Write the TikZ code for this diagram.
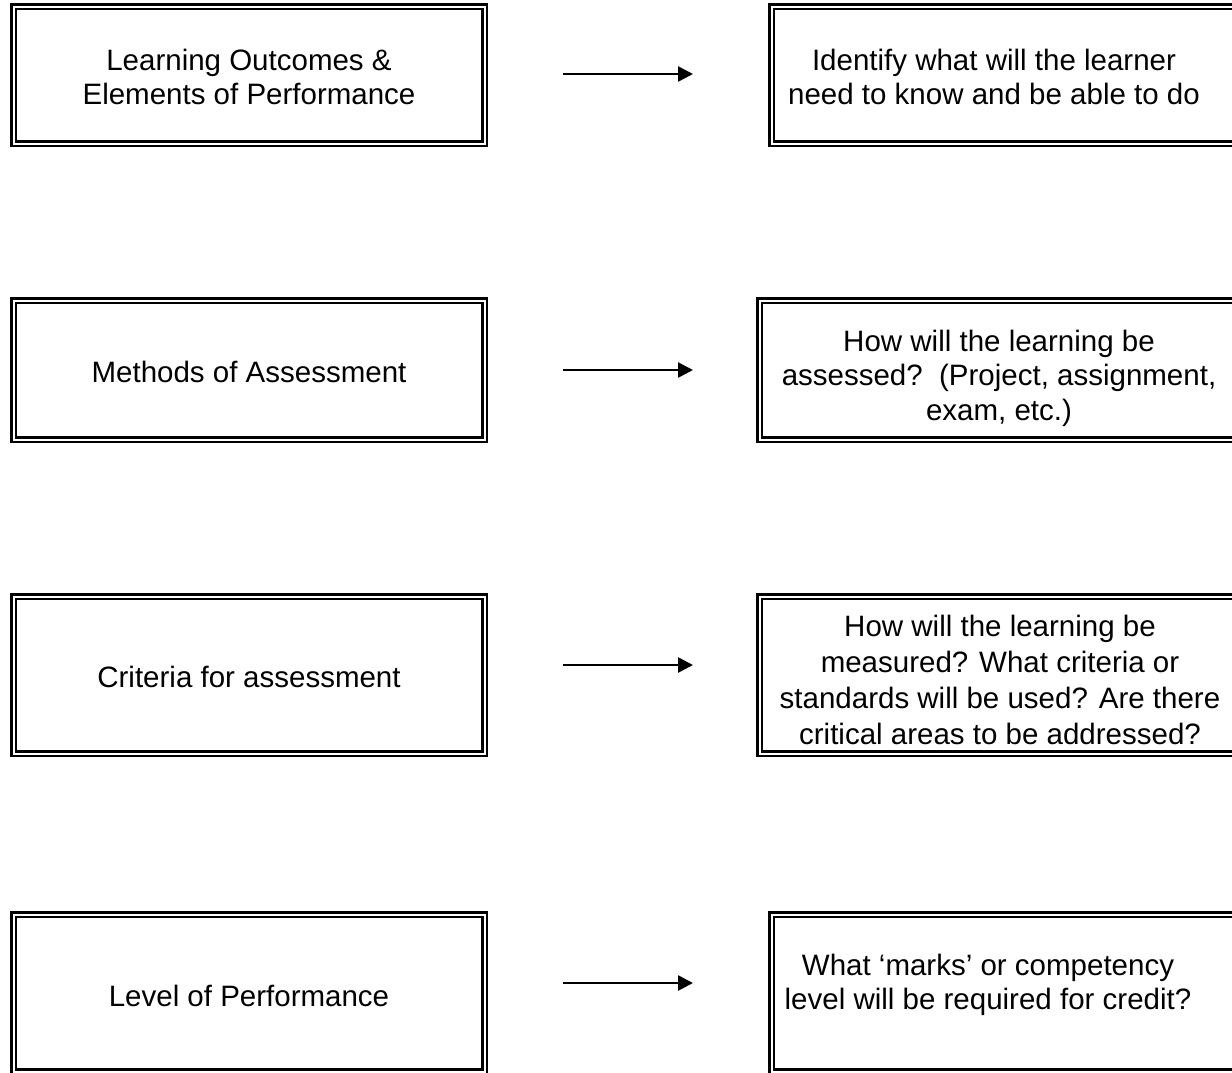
\documentclass[tikz,border=0pt]{standalone}
\usepackage{fontspec}
\setmainfont{Liberation Sans}
\usetikzlibrary{arrows.meta}
\newcommand\mybox[5]{%
  \node[dbox, anchor=north west, minimum width={#4-#2-7}, minimum height={#5-#3-7}] (#1) at ({#2+3.5},{#3+3.5}) {};}
\begin{document}
\begin{tikzpicture}[x=1pt,y=-1pt,
  dbox/.style={draw, line width=2.5pt, double=white, double distance=2pt, inner sep=0pt, outer sep=0pt},
  txt/.style={align=center, font=\fontsize{29.5}{34.5}\selectfont, inner sep=0pt},
  txtwide/.style={txt, font=\fontsize{29.5}{36}\selectfont},
  arr/.style={line width=2.6pt, -{Triangle[length=15pt,width=15pt]}}]
\useasboundingbox (0,0) rectangle (1232,1072);
% boxes
\mybox{L1}{10}{3}{488}{147}
\mybox{L2}{10}{297}{488}{443}
\mybox{L3}{10}{593}{488}{757}
\mybox{L4}{10}{911}{488}{1075}
\mybox{R1}{768}{3}{1245}{147}
\mybox{R2}{756}{297}{1245}{443}
\mybox{R3}{756}{593}{1245}{757}
\mybox{R4}{768}{911}{1245}{1075}
% texts
\node[txt] (tL1) at (249,77) {Learning Outcomes \&\\Elements of Performance};
\node[txt] (tR1) at (994,77) {Identify what will the learner\\need to know and be able to do};
\node[txt] (tL2) at (249,372) {Methods of Assessment};
\node[txt] (tR2) at (999,378) {How will the learning be\\assessed?\ \ (Project, assignment,\\exam, etc.)};
\node[txtwide] (tR3) at (1000,680) {How will the learning be\\measured? What criteria or\\standards will be used? Are there\\critical areas to be addressed?};
\node[txt] (tL3) at (249,677) {Criteria for assessment};
\node[txt] (tL4) at (249,996) {Level of Performance};
\node[txt] (tR4) at (988,985) {What ‘marks’ or competency\\level will be required for credit?};
% arrows
\coordinate (a1s) at (563,74);  \coordinate (a1e) at (693,74);
\coordinate (a2s) at (563,370); \coordinate (a2e) at (693,370);
\coordinate (a3s) at (563,665); \coordinate (a3e) at (693,665);
\coordinate (a4s) at (563,983); \coordinate (a4e) at (693,983);
\draw[arr] (a1s) -- (a1e);
\draw[arr] (a2s) -- (a2e);
\draw[arr] (a3s) -- (a3e);
\draw[arr] (a4s) -- (a4e);
\end{tikzpicture}
\end{document}
